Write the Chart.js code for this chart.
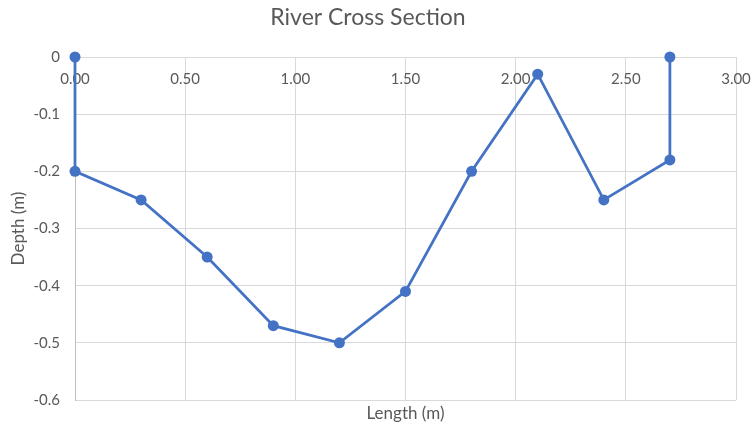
<!DOCTYPE html>
<html>
<head>
<meta charset="utf-8">
<script src="https://cdn.jsdelivr.net/npm/chart.js@4"></script>
<style>
  html, body { margin: 0; padding: 0; background: #ffffff; }
  canvas { display: block; }
</style>
</head>
<body>
<canvas id="chart" width="751" height="428"></canvas>
<script>
// Survey points across the river: horizontal distance and depth below the water line
const lengthM = [0, 0, 0.3, 0.6, 0.9, 1.2, 1.5, 1.8, 2.1, 2.4, 2.7, 2.7];
const depthM  = [0, -0.2, -0.25, -0.35, -0.47, -0.5, -0.41, -0.2, -0.03, -0.25, -0.18, 0];

const xTicks = [0, 0.5, 1.0, 1.5, 2.0, 2.5, 3.0];
const yTicks = [0, -0.1, -0.2, -0.3, -0.4, -0.5, -0.6];

const TEXT = '#595959';
const GRID = '#d9d9d9';
const FONT = 'Lato, "Open Sans", "Liberation Sans", sans-serif';

const points = lengthM.map((x, i) => ({ x: x, y: depthM[i] }));

new Chart(document.getElementById('chart'), {
  type: 'scatter',
  data: {
    datasets: [{
      data: points,
      showLine: true,
      borderColor: '#4472C4',
      backgroundColor: '#4472C4',
      borderWidth: 2.75,
      pointRadius: 5.5,
      pointHoverRadius: 5.5,
      pointBorderWidth: 0,
      clip: false
    }]
  },
  options: {
    responsive: false,
    animation: false,
    layout: { padding: { left: 0, right: 15, top: 0, bottom: 0 } },
    plugins: {
      legend: { display: false },
      tooltip: { enabled: false },
      title: {
        display: true,
        text: 'River Cross Section',
        color: TEXT,
        font: { family: FONT, size: 23, weight: 'normal' },
        padding: { top: 4, bottom: 25.4 }
      }
    },
    scales: {
      x: {
        type: 'linear',
        position: { y: 0 },
        min: 0,
        max: 3,
        afterBuildTicks: (scale) => { scale.ticks = xTicks.map(v => ({ value: v })); },
        // the last label is allowed to run to the edge of the canvas
        afterFit: (scale) => { scale.paddingLeft = 0; scale.paddingRight = 0; },
        ticks: {
          color: TEXT,
          font: { family: FONT, size: 15 },
          padding: 13,
          maxRotation: 0,
          callback: (v) => Number(v).toFixed(2)
        },
        grid: { color: GRID, lineWidth: 1, drawTicks: false },
        border: { display: true, color: GRID, width: 1 }
      },
      xTitle: {
        type: 'linear',
        position: 'bottom',
        min: 0,
        max: 3,
        afterFit: (scale) => { scale.height = 28; },
        ticks: { display: false },
        grid: { display: false, drawTicks: false },
        border: { display: false },
        title: {
          display: true,
          text: 'Length (m)',
          color: TEXT,
          font: { family: FONT, size: 17 },
          padding: { top: 0, bottom: 4 }
        }
      },
      y: {
        type: 'linear',
        position: 'left',
        min: -0.6,
        max: 0,
        afterFit: (scale) => { scale.width = 75; },
        afterBuildTicks: (scale) => { scale.ticks = yTicks.map(v => ({ value: v })); },
        ticks: {
          color: TEXT,
          font: { family: FONT, size: 15 },
          padding: 15,
          callback: (v) => (Math.abs(v) < 1e-9 ? '0' : Number(v).toFixed(1))
        },
        grid: { color: GRID, lineWidth: 1, drawTicks: false },
        border: { display: true, color: '#bfbfbf', width: 1 },
        title: {
          display: true,
          text: 'Depth (m)',
          color: TEXT,
          font: { family: FONT, size: 17 },
          padding: { top: 8, bottom: 0 }
        }
      }
    }
  }
});
</script>
</body>
</html>
